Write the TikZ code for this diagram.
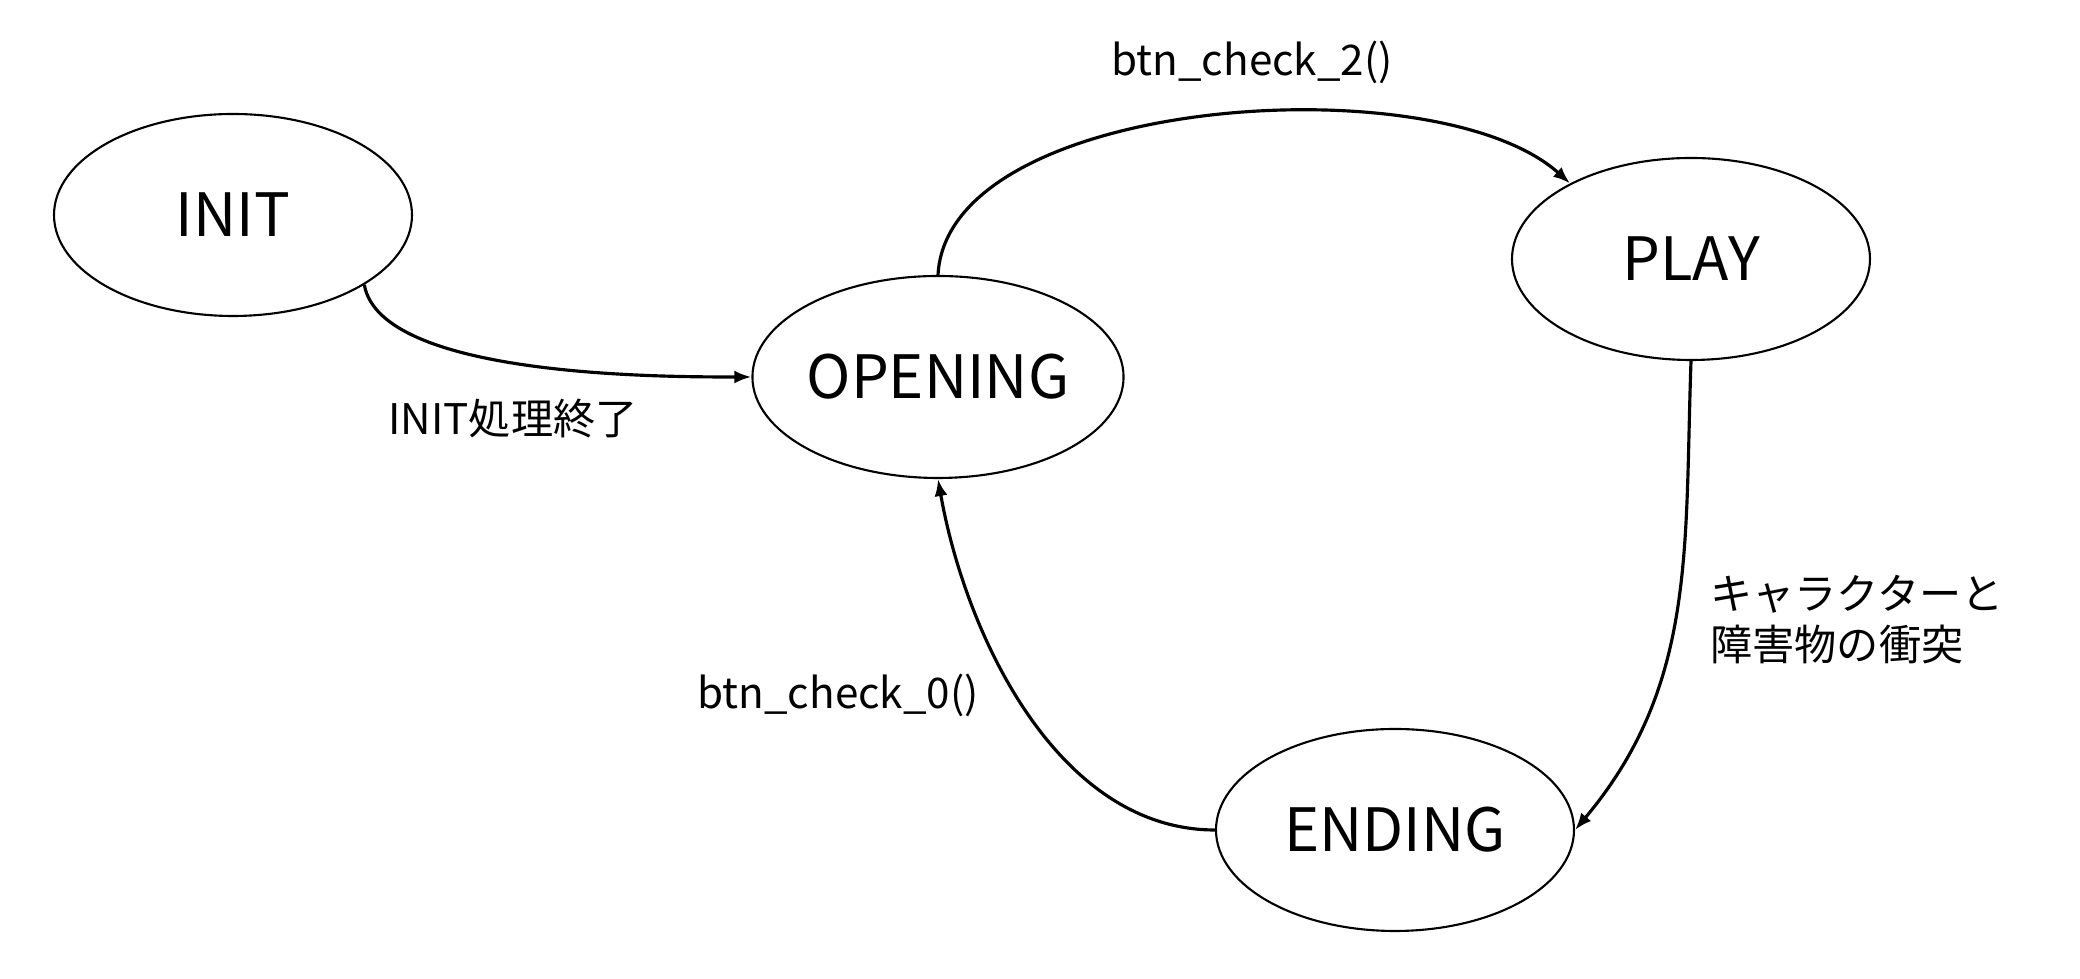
\documentclass[tikz,border=0pt]{standalone}
\usepackage{fontspec}
\setmainfont{Noto Sans CJK JP}
\usetikzlibrary{arrows.meta, shapes.geometric}

\begin{document}
\begin{tikzpicture}[
    % Styles
    state/.style={draw=black, line width=0.6pt, ellipse, inner sep=0pt, minimum width=3.58cm, minimum height=2.02cm, font=\fontsize{17}{20}\selectfont},
    trans/.style={-{Latex[length=1.7mm, width=1.3mm]}, line width=0.9pt, black},
    cond/.style={font=\fontsize{12}{14.5}\selectfont, align=left},
]

% Frame
\useasboundingbox (0, 0) rectangle (20.8, 9.79);

% States
\node[state] (init) at (2.33, 7.64) {INIT};
\node[state] (opening) at (9.38, 6.02) {OPENING};
\node[state] (play) at (16.91, 7.20) {PLAY};
\node[state] (ending) at (13.95, 1.49) {ENDING};

% Transitions
\draw[trans] (init.-28) to[out=-80, in=180, looseness=0.6] (opening.west);
\draw[trans] (opening.north) to[out=87, in=138, looseness=0.72] (play.148);
\draw[trans] (play.south) to[out=-92, in=50, looseness=1] (ending.east);
\draw[trans] (ending.west) to[out=180, in=-80, looseness=0.9] (opening.south);

% Conditions
\node[cond] (initdone) at (5.13, 5.60) {INIT処理終了};
\node[cond] (check2) at (12.52, 9.17) {btn\_check\_2()};
\node[cond, anchor=west] (crash) at (16.98, 3.59) {キャラクターと\\障害物の衝突};
\node[cond] (check0) at (8.38, 2.84) {btn\_check\_0()};

\end{tikzpicture}
\end{document}
